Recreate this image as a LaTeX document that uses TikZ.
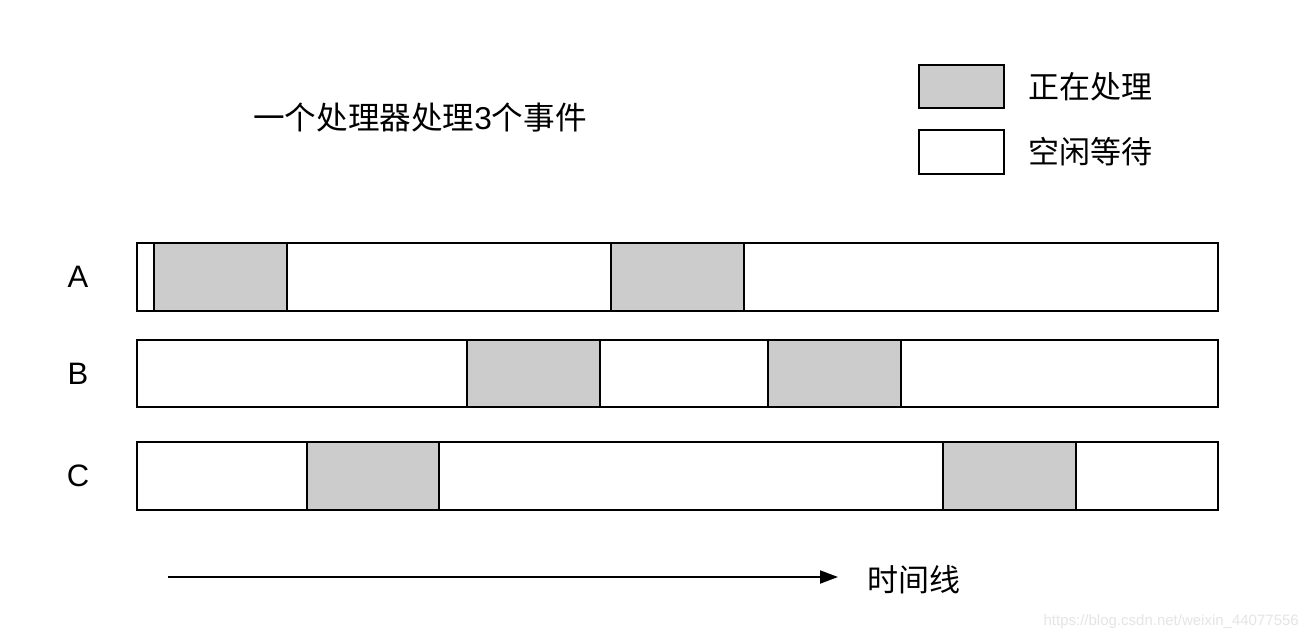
\documentclass[tikz,border=0pt]{standalone}
\usepackage{fontspec}
\setmainfont{Liberation Sans}
\newfontfamily\cjk{Noto Sans CJK SC}
\usetikzlibrary{arrows.meta}
\begin{document}
\begin{tikzpicture}[x=1pt,y=-1pt,
  bar/.style={draw=black,line width=2pt,fill=white},
  busy/.style={draw=black,line width=2pt,fill=busygray},
  cjktext/.style={font=\cjk\fontsize{31}{36}\selectfont,inner sep=0pt,anchor=west},
  rowlabel/.style={font=\fontsize{31}{36}\selectfont,inner sep=0pt},
  timearrow/.style={line width=2pt,-{Triangle[length=18pt,width=13pt]}}]
\definecolor{busygray}{HTML}{CCCCCC}
\useasboundingbox (0,0) rectangle (1309,640);
\fill[white] (0,0) rectangle (1309,640);
% title
\node[cjktext,font=\cjk\fontsize{31.6}{36}\selectfont] (title) at (253,118) {一个处理器处理{\rmfamily 3}个事件};
% legend
\draw[busy] (919,65) rectangle (1004,108);
\node[cjktext] (legbusy) at (1028,87) {正在处理};
\draw[bar] (919,130) rectangle (1004,174);
\node[cjktext] (legidle) at (1028,152) {空闲等待};
% row labels
\node[rowlabel] (la) at (78,277) {A};
\node[rowlabel] (lb) at (78,374) {B};
\node[rowlabel] (lc) at (78,476) {C};
% row A
\draw[bar] (137,243) rectangle (1218,311);
\draw[busy] (154,243) rectangle (287,311);
\draw[busy] (611,243) rectangle (744,311);
% row B
\draw[bar] (137,340) rectangle (1218,407);
\draw[busy] (467,340) rectangle (600,407);
\draw[busy] (768,340) rectangle (901,407);
% row C
\draw[bar] (137,442) rectangle (1218,510);
\draw[busy] (307,442) rectangle (439,510);
\draw[busy] (943,442) rectangle (1076,510);
% time arrow
\coordinate (tstart) at (168,577);
\coordinate (tend) at (838,577);
\draw[timearrow] (tstart) -- (tend);
\node[cjktext] (tlabel) at (867,580) {时间线};
% watermark
\node[font=\fontsize{15}{18}\selectfont,text=black!10,inner sep=0pt,anchor=east] (wm) at (1299,622) {https://blog.csdn.net/weixin\_44077556};
\end{tikzpicture}
\end{document}
